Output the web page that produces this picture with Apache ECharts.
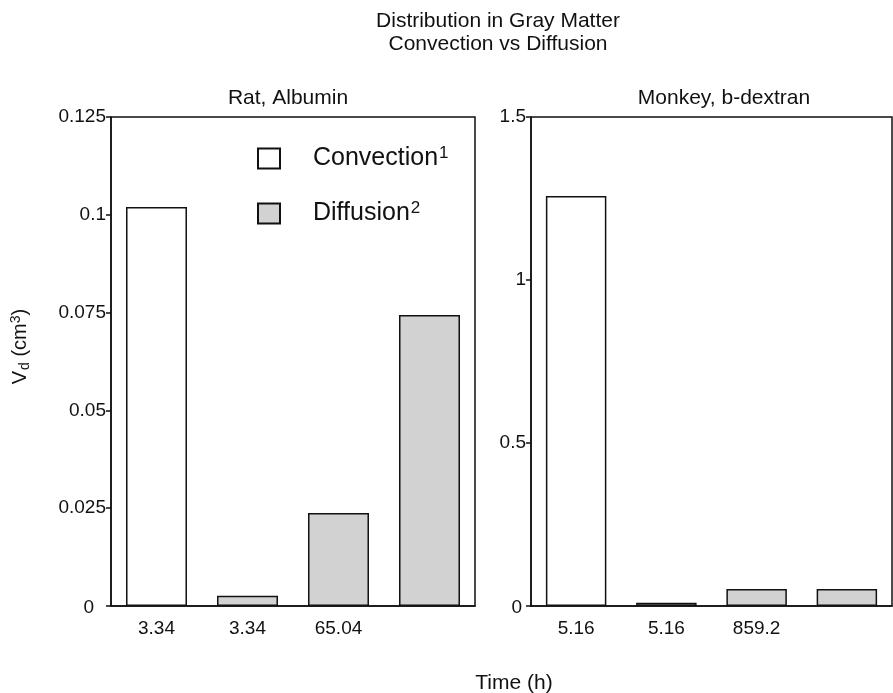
<!DOCTYPE html>
<html>
<head>
<meta charset="utf-8">
<script src="https://cdn.jsdelivr.net/npm/echarts@6/dist/echarts.min.js"></script>
<style>
  html, body { margin: 0; padding: 0; background: #fff; }
  #main { width: 893px; height: 693px; }
</style>
</head>
<body>
<div id="main"></div>
<script>
// rat, albumin panel
var ratLabels = ['3.34', '3.34', '65.04', ''];
var ratConvection = [0.102, '-', '-', '-'];
var ratDiffusion = ['-', 0.0026, 0.0238, 0.0744];

// monkey, b-dextran panel
var monkeyLabels = ['5.16', '5.16', '859.2', ''];
var monkeyConvection = [1.258, '-', '-', '-'];
var monkeyDiffusion = ['-', 0.01, 0.052, 0.052];

var FONT = '"Liberation Sans", Arial, Helvetica, sans-serif';
var black = '#111';

function xAxisFor(idx, labels) {
  return {
    type: 'category',
    gridIndex: idx,
    data: labels,
    axisLine: { lineStyle: { color: black, width: 1.5 } },
    axisTick: { show: false },
    axisLabel: { color: black, fontSize: 19, fontFamily: FONT, margin: 13, interval: 0 }
  };
}

// the zero label sits a bit further from the axis in the original
function yAxisFor(idx, max, step, zeroPad) {
  return {
    type: 'value',
    gridIndex: idx,
    min: 0,
    max: max,
    interval: step,
    axisLine: { show: true, lineStyle: { color: black, width: 1.5 } },
    axisTick: { show: true, length: 5, lineStyle: { color: black, width: 1.5 } },
    axisLabel: {
      color: black, fontSize: 19, fontFamily: FONT, margin: 5,
      formatter: function (v) { return v === 0 ? '{z|0}' : String(v); },
      rich: { z: { fontSize: 19, color: black, fontFamily: FONT, padding: [4, zeroPad, 0, 0] } }
    },
    splitLine: { show: false }
  };
}

var convStyle = { color: '#fff', borderColor: black, borderWidth: 1.5 };
var diffStyle = { color: '#d2d2d2', borderColor: black, borderWidth: 1.5 };

var chart = echarts.init(document.getElementById('main'));

var option = {
  backgroundColor: '#fff',
  animation: false,
  textStyle: { fontFamily: FONT },
  title: [
    {
      text: 'Distribution in Gray Matter\nConvection vs Diffusion',
      left: 493, top: 5, textAlign: 'center',
      textStyle: { fontSize: 21, fontWeight: 'normal', color: black, lineHeight: 23, fontFamily: FONT }
    },
    {
      text: 'Rat, Albumin',
      left: 283, top: 83, textAlign: 'center',
      textStyle: { fontSize: 21, fontWeight: 'normal', color: black, fontFamily: FONT }
    },
    {
      text: 'Monkey, b-dextran',
      left: 719, top: 83, textAlign: 'center',
      textStyle: { fontSize: 21, fontWeight: 'normal', color: black, fontFamily: FONT }
    },
    {
      text: 'Time (h)',
      left: 509, top: 668, textAlign: 'center',
      textStyle: { fontSize: 21, fontWeight: 'normal', color: black, fontFamily: FONT }
    }
  ],
  legend: {
    orient: 'vertical',
    left: 252,
    top: 140,
    itemWidth: 22,
    itemHeight: 20,
    itemGap: 29,
    icon: 'rect',
    data: ['Convection', 'Diffusion'],
    formatter: function (name) {
      return name === 'Convection' ? 'Convection{sup|1}' : 'Diffusion{sup|2}';
    },
    textStyle: {
      fontSize: 25,
      color: black,
      fontFamily: FONT,
      padding: [0, 0, 0, 28],
      rich: {
        sup: { fontSize: 17, color: black, fontFamily: FONT, padding: [0, 0, 10, 1] }
      }
    }
  },
  grid: [
    { left: 111, top: 117, width: 364, height: 489, show: true, borderColor: black, borderWidth: 1.5, backgroundColor: 'transparent' },
    { left: 531, top: 117, width: 361, height: 489, show: true, borderColor: black, borderWidth: 1.5, backgroundColor: 'transparent' }
  ],
  xAxis: [xAxisFor(0, ratLabels), xAxisFor(1, monkeyLabels)],
  yAxis: [
    Object.assign(yAxisFor(0, 0.125, 0.025, 12), {
      name: 'V{sub|d} (cm{sup|3})',
      nameLocation: 'middle',
      nameGap: 79,
      nameTextStyle: {
        fontSize: 20, color: black, fontFamily: FONT,
        padding: [0, 0, 0, 30],
        rich: {
          sub: { fontSize: 14, color: black, fontFamily: FONT, padding: [9, 0, 0, 1] },
          sup: { fontSize: 14, color: black, fontFamily: FONT, padding: [0, 0, 9, 0] }
        }
      }
    }),
    yAxisFor(1, 1.5, 0.5, 4)
  ],
  series: [
    { name: 'Convection', type: 'bar', xAxisIndex: 0, yAxisIndex: 0, stack: 'rat', barWidth: '67%', itemStyle: convStyle, data: ratConvection },
    { name: 'Diffusion', type: 'bar', xAxisIndex: 0, yAxisIndex: 0, stack: 'rat', barWidth: '67%', itemStyle: diffStyle, data: ratDiffusion },
    { name: 'Convection', type: 'bar', xAxisIndex: 1, yAxisIndex: 1, stack: 'monkey', barWidth: '67%', itemStyle: convStyle, data: monkeyConvection },
    { name: 'Diffusion', type: 'bar', xAxisIndex: 1, yAxisIndex: 1, stack: 'monkey', barWidth: '67%', itemStyle: diffStyle, data: monkeyDiffusion }
  ]
};

chart.setOption(option);
</script>
</body>
</html>
